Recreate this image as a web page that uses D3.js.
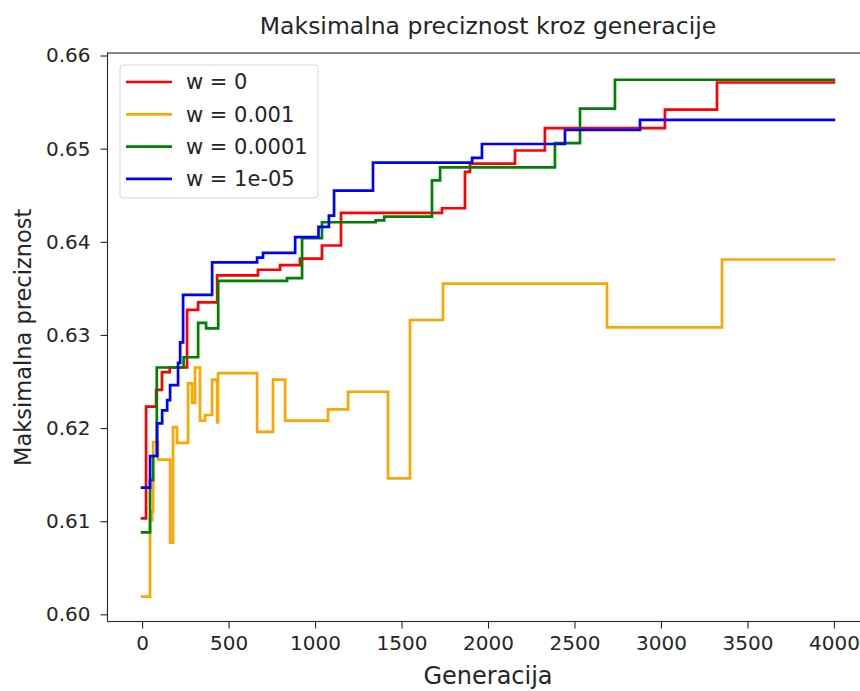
<!DOCTYPE html>
<html>
<head>
<meta charset="utf-8">
<script src="https://cdn.jsdelivr.net/npm/d3@7"></script>
<style>
  body { margin: 0; background: #fff; }
  text { font-family: "DejaVu Sans", sans-serif; fill: #262626; }
</style>
</head>
<body>
<div id="chart"></div>
<script>
// step change points: [generation, max precision]
const genRed    = [0, 23, 81, 115, 160, 260, 324, 434, 670, 798, 913, 1040, 1150, 1734, 1867, 1896, 2156, 2329, 3023, 3324, 4000];
const valRed    = [0.6103, 0.6223, 0.6241, 0.6260, 0.6265, 0.6327, 0.6335, 0.6364, 0.6370, 0.6375, 0.6382, 0.6396, 0.6431, 0.6436, 0.6475, 0.6484, 0.6498, 0.6522, 0.6542, 0.6571, 0.6571];

const genOrange = [0, 46, 58, 64, 92, 162, 179, 202, 266, 289, 306, 335, 364, 405, 434, 439, 665, 757, 827, 1075, 1191, 1422, 1549, 1740, 2688, 3353, 4000];
const valOrange = [0.6019, 0.6101, 0.6110, 0.6185, 0.6166, 0.6077, 0.6201, 0.6184, 0.6248, 0.6227, 0.6265, 0.6208, 0.6214, 0.6252, 0.6206, 0.6259, 0.6196, 0.6252, 0.6208, 0.6220, 0.6239, 0.6146, 0.6316, 0.6355, 0.6308, 0.6381, 0.6381];

const genGreen  = [0, 46, 64, 85, 240, 324, 370, 440, 838, 925, 1040, 1350, 1400, 1676, 1723, 2387, 2532, 2734, 4000];
const valGreen  = [0.6088, 0.6144, 0.6170, 0.6265, 0.6276, 0.6313, 0.6307, 0.6358, 0.6361, 0.6404, 0.6421, 0.6423, 0.6427, 0.6466, 0.6480, 0.6506, 0.6543, 0.6574, 0.6574];

const genBlue   = [0, 46, 87, 116, 145, 162, 208, 220, 237, 405, 665, 699, 885, 1020, 1080, 1110, 1335, 1908, 1965, 2445, 2879, 4000];
const valBlue   = [0.6136, 0.6170, 0.6205, 0.6219, 0.6230, 0.6246, 0.6270, 0.6292, 0.6343, 0.6378, 0.6383, 0.6388, 0.6405, 0.6416, 0.6428, 0.6455, 0.6485, 0.6490, 0.6505, 0.6520, 0.6531, 0.6531];

const seriesNames  = ["w = 0", "w = 0.001", "w = 0.0001", "w = 1e-05"];
const seriesColors = ["red", "orange", "green", "blue"];
const xTicks = [0, 500, 1000, 1500, 2000, 2500, 3000, 3500, 4000];
const yTicks = [0.60, 0.61, 0.62, 0.63, 0.64, 0.65, 0.66];

const series = [
  {name: seriesNames[0], color: seriesColors[0], pts: genRed.map((g, i) => [g, valRed[i]])},
  {name: seriesNames[1], color: seriesColors[1], pts: genOrange.map((g, i) => [g, valOrange[i]])},
  {name: seriesNames[2], color: seriesColors[2], pts: genGreen.map((g, i) => [g, valGreen[i]])},
  {name: seriesNames[3], color: seriesColors[3], pts: genBlue.map((g, i) => [g, valBlue[i]])}
];

const width = 860, height = 691;
const plot = {left: 107.5, right: 868.5, top: 53, bottom: 621.5};

const svg = d3.select("#chart").append("svg")
  .attr("width", width)
  .attr("height", height);

// matplotlib-like limits with 5% margin
const x = d3.scaleLinear().domain([-200, 4200]).range([plot.left, plot.right]);
const y = d3.scaleLinear().domain([0.59923, 0.66027]).range([plot.bottom, plot.top]);

const line = d3.line()
  .x(d => x(d[0]))
  .y(d => y(d[1]))
  .curve(d3.curveStepAfter);

svg.append("clipPath").attr("id", "clip")
  .append("rect").attr("x", plot.left).attr("y", plot.top)
  .attr("width", plot.right - plot.left).attr("height", plot.bottom - plot.top);

svg.append("g").attr("clip-path", "url(#clip)")
  .selectAll("path")
  .data(series)
  .join("path")
  .attr("d", d => line(d.pts))
  .attr("fill", "none")
  .attr("stroke", d => d.color)
  .attr("stroke-width", 2.7)
  .attr("stroke-linejoin", "miter")
  .attr("stroke-linecap", "square");

// axes
const xAxis = svg.append("g")
  .attr("transform", `translate(0,${plot.bottom})`)
  .call(d3.axisBottom(x).tickValues(xTicks).tickFormat(d3.format("d")).tickSize(7).tickPadding(7));
const yAxis = svg.append("g")
  .attr("transform", `translate(${plot.left},0)`)
  .call(d3.axisLeft(y).tickValues(yTicks).tickFormat(d3.format(".2f")).tickSize(7).tickPadding(10));

[xAxis, yAxis].forEach(a => {
  a.select(".domain").remove();
  a.selectAll("line").attr("stroke", "#262626").attr("stroke-width", 1.1);
  a.selectAll("text").attr("font-size", 20).attr("fill", "#262626")
    .style("font-family", "DejaVu Sans, sans-serif");
});

// spines
svg.append("rect")
  .attr("x", plot.left).attr("y", plot.top)
  .attr("width", plot.right - plot.left).attr("height", plot.bottom - plot.top)
  .attr("fill", "none").attr("stroke", "#262626").attr("stroke-width", 1.1);

// titles
svg.append("text")
  .attr("x", (plot.left + plot.right) / 2).attr("y", 34)
  .attr("text-anchor", "middle").attr("font-size", 23.5)
  .text("Maksimalna preciznost kroz generacije");

svg.append("text")
  .attr("x", (plot.left + plot.right) / 2).attr("y", 684)
  .attr("text-anchor", "middle").attr("font-size", 24)
  .text("Generacija");

svg.append("text")
  .attr("transform", `translate(31,${(plot.top + plot.bottom) / 2}) rotate(-90)`)
  .attr("text-anchor", "middle").attr("font-size", 22.5)
  .text("Maksimalna preciznost");

// legend
const legend = svg.append("g").attr("transform", "translate(120,65)");
legend.append("rect")
  .attr("width", 198).attr("height", 133).attr("rx", 3)
  .attr("fill", "white").attr("fill-opacity", 0.8)
  .attr("stroke", "#d6d6d6").attr("stroke-width", 1);

const item = legend.selectAll("g.item")
  .data(series)
  .join("g")
  .attr("class", "item")
  .attr("transform", (d, i) => `translate(0,${17 + i * 32.3})`);
item.append("line")
  .attr("x1", 6).attr("x2", 52)
  .attr("stroke", d => d.color).attr("stroke-width", 2.7);
item.append("text")
  .attr("x", 66).attr("dy", "0.35em").attr("font-size", 21)
  .text(d => d.name);
</script>
</body>
</html>
